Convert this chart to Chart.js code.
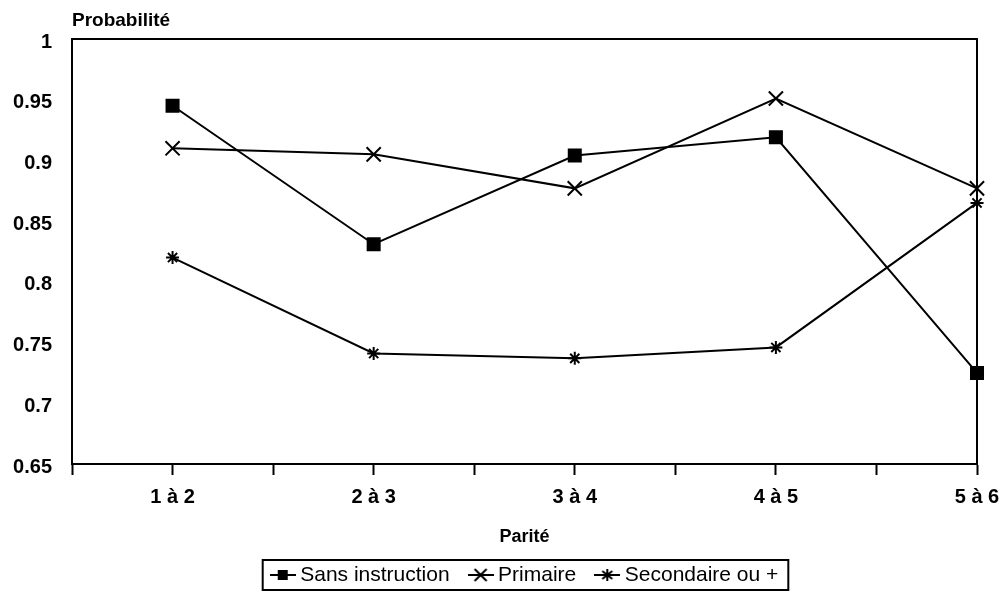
<!DOCTYPE html>
<html>
<head>
<meta charset="utf-8">
<script src="https://cdn.jsdelivr.net/npm/chart.js@4/dist/chart.umd.min.js"></script>
<style>
  html, body { margin: 0; padding: 0; background: #fff; }
  #wrap { width: 1006px; height: 592px; position: relative; }
</style>
</head>
<body>
<div id="wrap"><canvas id="c" width="1006" height="592"></canvas></div>
<script>
// ---- data ----
const categories = ["1 à 2", "2 à 3", "3 à 4", "4 à 5", "5 à 6"];
const sansInstruction = [0.945, 0.831, 0.904, 0.919, 0.725];
const primaire = [0.910, 0.905, 0.877, 0.951, 0.877];
const secondaire = [0.820, 0.741, 0.737, 0.746, 0.865];
const seriesNames = ["Sans instruction", "Primaire", "Secondaire ou +"];
const yTicks = [0.65, 0.7, 0.75, 0.8, 0.85, 0.9, 0.95, 1];
const yTitle = "Probabilité";
const xTitle = "Parité";

const FONT = "'Liberation Sans', Arial, sans-serif";
const LEGEND_PAD = 24;

function toPoints(arr) { return arr.map((v, i) => ({ x: i + 1, y: v })); }

const styles = [
  { pointStyle: 'rect', radius: 8.5 },
  { pointStyle: 'crossRot', radius: 10 },
  { pointStyle: 'star', radius: 6.5 }
];

function legendIcon(idx) {
  const cv = document.createElement('canvas');
  cv.width = 26; cv.height = 16;
  const g = cv.getContext('2d');
  g.strokeStyle = '#000'; g.fillStyle = '#000'; g.lineWidth = 2;
  g.beginPath(); g.moveTo(0, 8); g.lineTo(26, 8); g.stroke();
  const cx = 13, cy = 8;
  if (idx === 0) {
    g.fillRect(cx - 5, cy - 5, 10, 10);
  } else if (idx === 1) {
    g.beginPath();
    g.moveTo(cx - 6, cy - 6); g.lineTo(cx + 6, cy + 6);
    g.moveTo(cx + 6, cy - 6); g.lineTo(cx - 6, cy + 6);
    g.stroke();
  } else {
    g.beginPath();
    g.moveTo(cx, cy - 6); g.lineTo(cx, cy + 6);
    g.moveTo(cx - 5, cy - 4); g.lineTo(cx + 5, cy + 4);
    g.moveTo(cx + 5, cy - 4); g.lineTo(cx - 5, cy + 4);
    g.stroke();
  }
  return cv;
}

const allSeries = [sansInstruction, primaire, secondaire];
const datasets = allSeries.map((s, i) => ({
  label: seriesNames[i],
  data: toPoints(s),
  borderColor: '#000',
  backgroundColor: '#000',
  borderWidth: 2,
  pointStyle: styles[i].pointStyle,
  pointRadius: styles[i].radius,
  pointHoverRadius: styles[i].radius,
  pointBackgroundColor: '#000',
  pointBorderColor: '#000',
  pointBorderWidth: 2,
  tension: 0,
  clip: false
}));

function legendBorder(lg) {
  const hb = lg.legendHitBoxes;
  const first = hb[0], last = hb[hb.length - 1];
  const rowTop = lg.top + LEGEND_PAD;
  return {
    l: first.left - 13, r: last.left + last.width + 10,
    t: rowTop - 4.5, b: rowTop + first.height + 4.5
  };
}

const framePlugin = {
  id: 'frame',
  afterUpdate(chart) {
    // centre the legend under the plot area
    const lg = chart.legend, a = chart.chartArea;
    if (!lg || !lg.legendHitBoxes || !lg.legendHitBoxes.length) return;
    const tops = lg.legendHitBoxes.map(h => h.top);
    lg.adjustHitBoxes();
    const bb = legendBorder(lg);
    const dx = (a.left + a.right) / 2 + 1 - (bb.l + bb.r) / 2;
    lg.left += dx; lg.right += dx;
    lg.legendHitBoxes.forEach((h, i) => { h.top = tops[i]; });
    lg.adjustHitBoxes();
  },
  afterDraw(chart) {
    const { ctx, chartArea: a } = chart;
    ctx.save();
    ctx.strokeStyle = '#000';
    ctx.lineWidth = 2;
    ctx.strokeRect(a.left, a.top, a.right - a.left, a.bottom - a.top);
    ctx.fillStyle = '#000';
    ctx.textBaseline = 'middle';
    // y title above axis
    ctx.font = "bold 19px " + FONT;
    ctx.textAlign = 'left';
    ctx.fillText(yTitle, a.left, 21);
    // x title
    ctx.font = "bold 18px " + FONT;
    ctx.textAlign = 'center';
    ctx.fillText(xTitle, (a.left + a.right) / 2, 537);
    // legend border
    const lg = chart.legend;
    if (lg && lg.legendHitBoxes && lg.legendHitBoxes.length) {
      const bb = legendBorder(lg);
      ctx.lineWidth = 2;
      ctx.strokeRect(bb.l, bb.t, bb.r - bb.l, bb.b - bb.t);
    }
    ctx.restore();
  }
};

new Chart(document.getElementById('c'), {
  type: 'line',
  data: { datasets },
  plugins: [framePlugin],
  options: {
    responsive: false,
    animation: false,
    layout: { padding: { left: 0, top: 39, right: 29, bottom: 0 } },
    scales: {
      x: {
        type: 'linear',
        min: 0.5, max: 5,
        afterBuildTicks(scale) {
          const t = [];
          for (let k = 0; k <= 9; k++) t.push({ value: 0.5 + k * 0.5 });
          scale.ticks = t;
        },
        afterFit(scale) { scale.height = 76.5; scale.paddingRight = 0; scale.paddingLeft = 0; },
        grid: { drawOnChartArea: false, drawTicks: true, tickLength: 11, tickWidth: 2, tickColor: '#000' },
        border: { display: true, color: '#000', width: 2 },
        ticks: {
          autoSkip: false, maxRotation: 0, padding: 10, color: '#000',
          font: { family: FONT, size: 20, weight: 'bold' },
          callback(v) { return Number.isInteger(v) ? categories[v - 1] : ''; }
        }
      },
      y: {
        min: 0.65, max: 1,
        afterBuildTicks(scale) { scale.ticks = yTicks.map(v => ({ value: v })); },
        afterFit(scale) { scale.width = 72; },
        grid: { drawOnChartArea: false, drawTicks: false },
        border: { display: true, color: '#000', width: 2 },
        ticks: {
          padding: 20, color: '#000', labelOffset: 3,
          font: { family: FONT, size: 20, weight: 'bold' },
          callback(v) { return String(Math.round(v * 100) / 100); }
        }
      }
    },
    plugins: {
      tooltip: { enabled: false },
      legend: {
        position: 'bottom',
        maxHeight: 51.5,
        labels: {
          usePointStyle: true,
          pointStyleWidth: 14,
          padding: LEGEND_PAD,
          color: '#000',
          font: { family: FONT, size: 21 },
          generateLabels(chart) {
            return chart.data.datasets.map((d, i) => ({
              text: d.label,
              pointStyle: legendIcon(i),
              fillStyle: '#000',
              strokeStyle: '#000',
              lineWidth: 0,
              hidden: false,
              datasetIndex: i,
              fontColor: '#000'
            }));
          }
        }
      }
    }
  }
});
</script>
</body>
</html>
